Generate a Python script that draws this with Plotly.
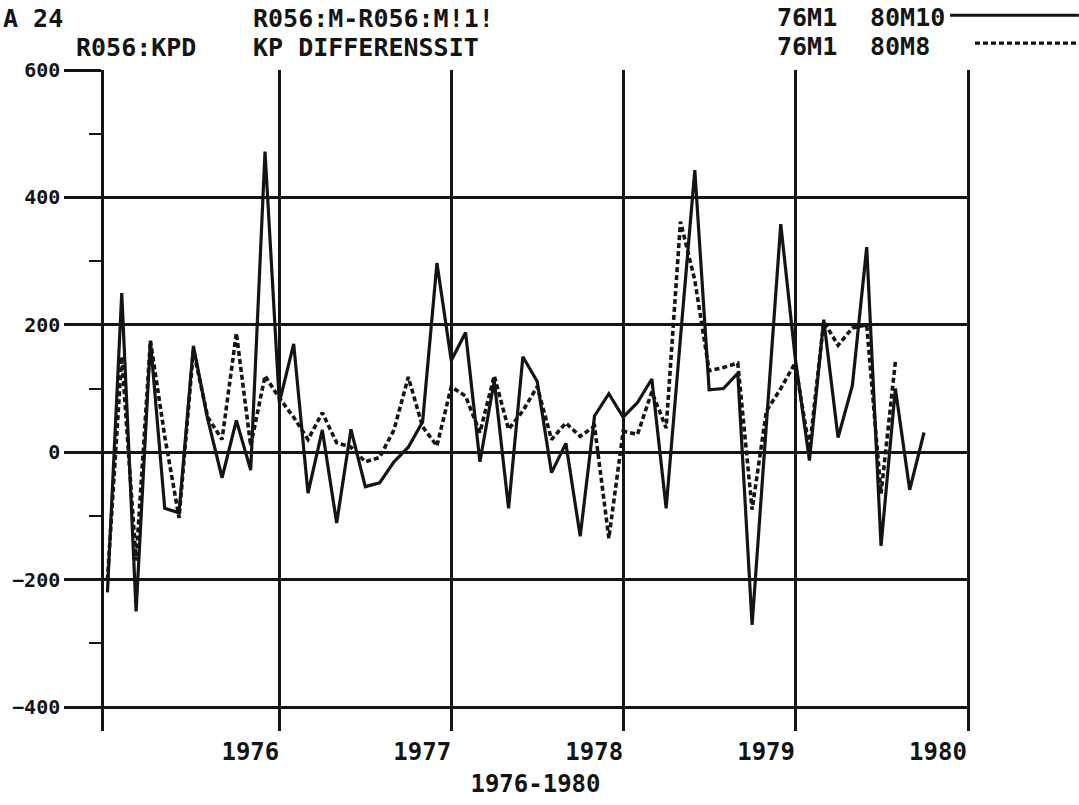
import plotly.graph_objects as go

# Monthly KP difference series, starting 1976 M1
START_YEAR = 1976
kp_80m10 = [
    -220, 250, -250, 175, -88, -95, 167, 52, -40, 50, -28, 472,      # 1976
    78, 170, -64, 35, -111, 36, -54, -48, -15, 8, 48, 297,            # 1977
    144, 188, -15, 112, -88, 150, 111, -32, 14, -132, 57, 92,         # 1978
    55, 78, 115, -88, 180, 443, 98, 100, 124, -271, 45, 358,          # 1979
    150, -13, 208, 23, 105, 322, -147, 100, -59, 31,                  # 1980 M1-M10
]
kp_80m8 = [
    -200, 150, -170, 175, 25, -103, 160, 55, 20, 187, 10, 120,        # 1976
    85, 55, 20, 62, 15, 8, -15, -8, 35, 118, 40, 10,                  # 1977
    103, 88, 31, 120, 36, 65, 103, 20, 46, 25, 41, -135,              # 1978
    33, 28, 95, 38, 362, 270, 128, 133, 140, -90, 65, 100,            # 1979
    140, 5, 205, 168, 195, 200, -65, 142,                             # 1980 M1-M8
]

year_ticks = [1977, 1978, 1979, 1980, 1981]
year_labels = ["1976", "1977", "1978", "1979", "1980"]
y_ticks = [-400, -200, 0, 200, 400, 600]

def month_x(values):
    return [START_YEAR + k / 12 for k in range(len(values))]

INK = "#141414"
FONT = "DejaVu Sans Mono"
DOTTED = "5px,3px"

fig = go.Figure()
fig.add_trace(go.Scatter(
    x=month_x(kp_80m10), y=kp_80m10, mode="lines", name="76M1  80M10",
    line=dict(color=INK, width=3.2), showlegend=False,
))
fig.add_trace(go.Scatter(
    x=month_x(kp_80m8), y=kp_80m8, mode="lines", name="76M1  80M8",
    line=dict(color=INK, width=3.6, dash=DOTTED), showlegend=False,
))

# plot area geometry (pixels) used to place header texts
L, R, T, B = 103, 967, 70, 733
W, H = 1079, 805
pw, ph = R - L, B - T

def px(x):
    return (x - L) / pw

def py(y):
    return (B - y) / ph

header = [
    ("A 24", 0, 18),
    ("R056:M-R056:M!1!", 250, 18),
    ("R056:KPD", 73, 47),
    ("KP DIFFERENSSIT", 250, 47),
    ("76M1", 775, 17),
    ("80M10", 868, 17),
    ("76M1", 775, 46),
    ("80M8", 868, 46),
]
annotations = [
    dict(text=t, x=px(x0), y=py(y0), xref="paper", yref="paper",
         xanchor="left", yanchor="middle", showarrow=False,
         font=dict(family=FONT, size=25, color=INK, weight="bold"))
    for t, x0, y0 in header
]

shapes = [
    dict(type="line", xref="paper", yref="paper", x0=px(950), x1=px(1079),
         y0=py(15), y1=py(15), line=dict(color=INK, width=3)),
    dict(type="line", xref="paper", yref="paper", x0=px(975), x1=px(1079),
         y0=py(43), y1=py(43), line=dict(color=INK, width=3.4, dash=DOTTED)),
]

fig.update_layout(
    width=W, height=H,
    margin=dict(l=L, r=W - R, t=T, b=H - B, pad=0),
    paper_bgcolor="white", plot_bgcolor="white",
    annotations=annotations, shapes=shapes,
    font=dict(family=FONT, color=INK),
)
fig.update_xaxes(
    range=[1975.98, 1981.0],
    tickvals=year_ticks, ticktext=year_labels,
    ticks="", showline=False, zeroline=False,
    showgrid=True, gridcolor=INK, gridwidth=2.5,
    tickfont=dict(family=FONT, size=24, color=INK, weight="bold"),
    ticklabelshift=-29, ticklabelstandoff=4,
    title=dict(text="1976-1980", standoff=10,
               font=dict(family=FONT, size=24, color=INK, weight="bold")),
)
fig.update_yaxes(
    range=[-437.5, 600],
    tickvals=y_ticks,
    ticks="outside", ticklen=37, tickwidth=2.5, tickcolor=INK,
    minor=dict(dtick=100, tick0=0, ticks="outside", ticklen=12,
               tickwidth=2, tickcolor=INK, showgrid=False),
    showline=True, linecolor=INK, linewidth=2.5, mirror=True,
    zeroline=False, showgrid=True, gridcolor=INK, gridwidth=2.8,
    tickfont=dict(family=FONT, size=20, color=INK, weight="bold"),
)

fig.write_html("out.html")
